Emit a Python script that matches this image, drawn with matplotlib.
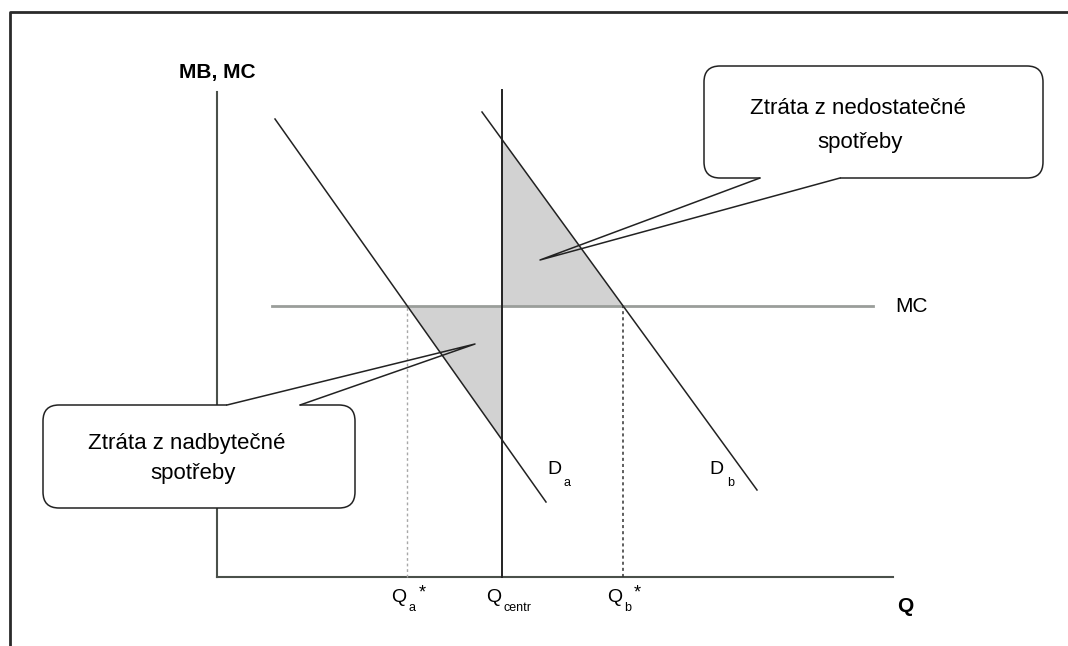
import numpy as np
import matplotlib.pyplot as plt
from matplotlib.patches import FancyBboxPatch

plt.rcParams['font.family'] = ['Liberation Sans', 'DejaVu Sans']

# demand curves (Q, MB) end points
da_q = [5.8, 32.9]
da_p = [45.8, 7.5]
db_q = [26.5, 54.0]
db_p = [46.5, 8.7]
mc_level = 27.1
mc_q = [5.5, 65.6]
q_centr = 28.5
q_max = 67.6
p_max = 48.5

# callouts: (left, bottom, right, top), gap on edge, tip
box_hi = (48.7, 39.9, 82.6, 51.1)
box_hi_gap = (54.3, 62.3)
box_hi_tip = (32.3, 31.7)
box_hi_text = ["Ztráta z nedostatečné", "spotřeby"]
box_lo = (-17.4, 6.9, 13.8, 17.2)
box_lo_gap = (1.0, 8.3)
box_lo_tip = (25.8, 23.3)
box_lo_text = ["Ztráta z nadbytečné", "spotřeby"]


def p_at(qs, ps, q):
    return ps[0] + (q - qs[0]) * (ps[1] - ps[0]) / (qs[1] - qs[0])


def q_at(qs, ps, p):
    return qs[0] + (p - ps[0]) * (qs[1] - qs[0]) / (ps[1] - ps[0])


qa_star = q_at(da_q, da_p, mc_level)
qb_star = q_at(db_q, db_p, mc_level)

fig = plt.figure(figsize=(10.68, 6.46), dpi=100)
ax = fig.add_axes([0, 0, 1, 1])
ax.set_xlim(-21.7, 85.1)
ax.set_ylim(-6.9, 57.7)
ax.axis('off')

# outer frame (cut off at right and bottom)
ax.plot([-20.7, -20.7, 86], [-8, 56.5, 56.5], color='#2a2a2a', lw=2)

# axes
axc = '#4a504a'
ax.plot([0, 0], [0, p_max], color=axc, lw=1.5, zorder=2)
ax.plot([0, q_max], [0, 0], color=axc, lw=1.5, zorder=2)
ax.text(0, 50.5, "MB, MC", fontsize=15, fontweight='bold', ha='center', va='center')
ax.text(68.0, -3.0, "Q", fontsize=15, fontweight='bold', ha='left', va='center')

# deadweight loss triangles
ax.fill([qa_star, q_centr, q_centr], [mc_level, mc_level, p_at(da_q, da_p, q_centr)],
        color='#d2d2d2', lw=0, zorder=1)
ax.fill([q_centr, q_centr, qb_star], [p_at(db_q, db_p, q_centr), mc_level, mc_level],
        color='#d2d2d2', lw=0, zorder=1)

# MC, demand, Q_centr
ax.plot(mc_q, [mc_level, mc_level], color='#9a9e9a', lw=2, zorder=2)
ax.text(67.8, mc_level, "MC", fontsize=15, ha='left', va='center')
ax.plot(da_q, da_p, color='#222222', lw=1.1, zorder=2)
ax.plot(db_q, db_p, color='#222222', lw=1.1, zorder=2)
ax.plot([q_centr, q_centr], [0, 48.7], color='#222222', lw=1.4, zorder=2)

# dotted drop lines
ax.plot([qa_star, qa_star], [0, mc_level], color='#a8a8a8', lw=1, ls=(0, (2, 2)), zorder=2)
ax.plot([qb_star, qb_star], [0, mc_level], color='#333333', lw=1.1, ls=(0, (2, 2)), zorder=2)

# curve labels
ax.text(33.0, 10.7, "D", fontsize=14, ha='left', va='center')
ax.text(34.6, 9.4, "a", fontsize=9, ha='left', va='center')
ax.text(49.2, 10.7, "D", fontsize=14, ha='left', va='center')
ax.text(51.0, 9.4, "b", fontsize=9, ha='left', va='center')

# quantity labels
for qx, sub, star in [(qa_star, "a", True), (q_centr, "centr", False), (qb_star, "b", True)]:
    ax.text(qx - 0.1, -2.0, "Q", fontsize=14, ha='right', va='center')
    ax.text(qx + 0.1, -3.1, sub, fontsize=9, ha='left', va='center')
    if star:
        ax.text(qx + 1.1, -1.6, "*", fontsize=13, ha='left', va='center')


def callout(box, gap, tip, lines, line_y, edge_y):
    x0, y0, x1, y1 = box
    patch = FancyBboxPatch((x0, y0), x1 - x0, y1 - y0,
                           boxstyle="round,pad=0,rounding_size=1.6",
                           fc='white', ec='#222222', lw=1.1, zorder=4)
    ax.add_patch(patch)
    ax.plot(gap, [edge_y, edge_y], color='white', lw=3, zorder=5,
            solid_capstyle='butt')
    ax.plot([gap[0], tip[0], gap[1]], [edge_y, tip[1], edge_y],
            color='#222222', lw=1.1, zorder=5)
    for (tx, ty), s in zip(line_y, lines):
        ax.text(tx, ty, s, fontsize=16, ha='center', va='center', zorder=6)


callout(box_hi, box_hi_gap, box_hi_tip, box_hi_text,
        [(64.1, 46.9), (64.3, 43.5)], box_hi[1])
callout(box_lo, box_lo_gap, box_lo_tip, box_lo_text,
        [(-3.0, 13.4), (-2.4, 10.4)], box_lo[3])

fig.savefig("out.png", dpi=100)
